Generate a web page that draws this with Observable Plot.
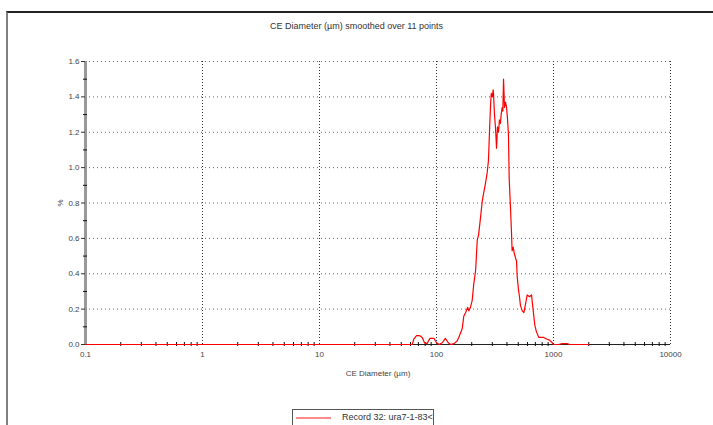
<!DOCTYPE html>
<html><head><meta charset="utf-8">
<script src="https://cdn.jsdelivr.net/npm/d3@7"></script>
<script src="https://cdn.jsdelivr.net/npm/@observablehq/plot@0.6"></script>
<style>
body{margin:0;background:#fff;font-family:"Liberation Sans",Arial,sans-serif;}
#wrap{position:relative;width:713px;height:425px;overflow:hidden;background:#fff}
#frame{position:absolute;left:6px;top:11px;width:760px;height:460px;border-left:2px solid #808080;border-top:2px solid #222;box-sizing:border-box}
#title{position:absolute;top:21px;left:0;width:713px;text-align:center;font-size:9px;color:#333}
#chart{position:absolute;left:0;top:0}
#legend{position:absolute;left:292px;top:409px;width:142px;height:20px;border:1px solid #555;background:#fff;font-size:9px;color:#333;box-sizing:border-box}
#legend svg{position:absolute;left:2px;top:3px}
#legend span{position:absolute;left:49px;top:2px;white-space:nowrap}
</style></head>
<body>
<div id="wrap">
  <div id="frame"></div>
  <div id="title"></div>
  <div id="chart"></div>
  <div id="legend"><svg width="40" height="10"><line x1="1" y1="5" x2="36" y2="5" stroke="#ff8a8a" stroke-width="2"/></svg><span></span></div>
</div>
<script>
const titleText = "CE Diameter (µm) smoothed over 11 points";
const xLabel = "CE Diameter (µm)";
const yLabel = "%";
const legendText = "Record 32: ura7-1-83<";

const xMajor = [0.1, 1, 10, 100, 1000, 10000];
const xMinor = [];
for (const k of [0.1, 1, 10, 100, 1000]) for (let m = 2; m <= 9; m++) xMinor.push(+(k * m).toPrecision(3));
const yMajor = [0, 0.2, 0.4, 0.6, 0.8, 1.0, 1.2, 1.4, 1.6];
const yMinor = [0.1, 0.3, 0.5, 0.7, 0.9, 1.1, 1.3, 1.5];

const diameter = [0.1, 58, 62, 64, 67.5, 72, 75.5, 79, 83, 88,
  95, 100, 105, 112, 119, 126, 132, 141, 150, 155,
  166, 171, 177, 185, 189, 195, 202, 208, 216, 223,
  229, 238, 246, 252, 262, 271, 278, 284, 290, 294,
  300, 305, 307, 313, 319, 326, 332, 339, 345, 352,
  357, 364, 369, 374, 378, 381, 389, 397, 404, 412,
  418, 429, 436, 443, 452, 464, 474, 483, 490, 502,
  512, 522, 541, 558, 577, 596, 624, 649, 671, 692,
  716, 750, 789, 826, 883, 925, 975, 1006, 1062, 1104,
  1187, 1242, 1309, 1371, 2000];
const percent = [0, 0, 0, 0.03, 0.05, 0.05, 0.04, 0.01, 0.005, 0.035,
  0.035, 0.01, 0, 0.01, 0.035, 0.01, 0, 0.005, 0.02, 0.04,
  0.09, 0.16, 0.18, 0.21, 0.19, 0.21, 0.25, 0.34, 0.42, 0.59,
  0.62, 0.72, 0.81, 0.85, 0.91, 0.97, 1.04, 1.21, 1.36, 1.42,
  1.40, 1.44, 1.42, 1.30, 1.23, 1.11, 1.23, 1.20, 1.27, 1.25,
  1.30, 1.34, 1.32, 1.50, 1.42, 1.34, 1.37, 1.34, 1.28, 1.19,
  0.94, 0.77, 0.66, 0.53, 0.55, 0.51, 0.49, 0.47, 0.38, 0.31,
  0.27, 0.22, 0.19, 0.18, 0.23, 0.28, 0.27, 0.28, 0.19, 0.11,
  0.07, 0.04, 0.04, 0.04, 0.03, 0.025, 0.01, 0, 0, 0,
  0.005, 0.005, 0.005, 0, 0];

const data = diameter.map((d, i) => ({d, v: percent[i]}));

document.getElementById("title").textContent = titleText;
document.querySelector("#legend span").textContent = legendText;

const chart = Plot.plot({
  width: 713, height: 425,
  marginLeft: 85, marginRight: 43, marginTop: 61, marginBottom: 81,
  style: {fontFamily: "'Liberation Sans', Arial, sans-serif", fontSize: "8px", color: "#333", background: "transparent"},
  x: {type: "log", domain: [0.1, 10000]},
  y: {domain: [0, 1.6]},
  marks: [
    Plot.ruleY(yMajor.filter(v => v > 0), {stroke: "#666", strokeDasharray: "1,3"}),
    Plot.ruleX(xMajor.filter(v => v > 0.1), {stroke: "#333", strokeDasharray: "1,2"}),
    Plot.ruleX([0.1], {stroke: "#999", strokeWidth: 3}),
    Plot.ruleY([0], {stroke: "#222"}),
    Plot.axisY(yMajor, {tickSize: 4, tickPadding: 2, tickFormat: d3.format(".1f"), fill: "#444", label: yLabel, labelAnchor: "center", labelOffset: 28, labelArrow: "none"}),
    Plot.axisY(yMinor, {tickSize: 4, dx: 2, text: null, label: null, stroke: "#111"}),
    Plot.axisX(xMajor, {tickSize: 0, tickPadding: 7, tickFormat: d => String(d), fill: "#444", label: xLabel, labelAnchor: "center", labelOffset: 31, labelArrow: "none"}),
    Plot.axisX(xMinor, {tickSize: 4, dy: -2, text: null, label: null, stroke: "#111"}),
    Plot.line(data, {x: "d", y: "v", stroke: "#ff0000", strokeWidth: 1.2})
  ]
});
document.getElementById("chart").appendChild(chart);
</script>
</body></html>
